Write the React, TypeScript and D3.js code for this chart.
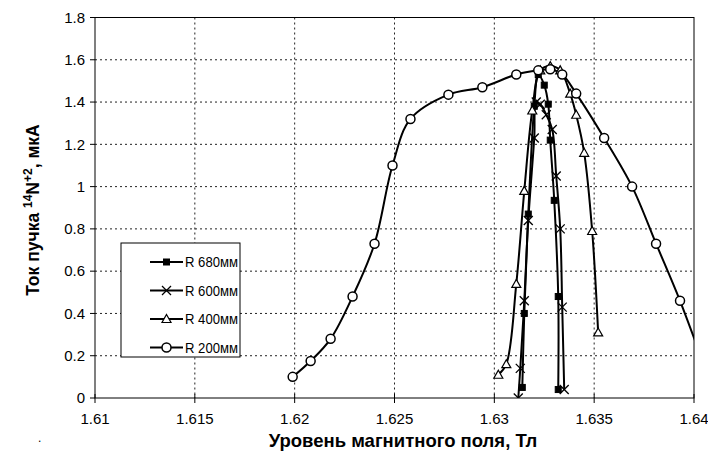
import React from "react";
import * as d3 from "d3";

const xTicks = [1.61, 1.615, 1.62, 1.625, 1.63, 1.635, 1.64];
const yTicks = [0, 0.2, 0.4, 0.6, 0.8, 1, 1.2, 1.4, 1.6, 1.8];

const r680X = [1.6314, 1.6315, 1.6317, 1.632, 1.6322, 1.6325, 1.6327, 1.6328, 1.633, 1.6332, 1.6332];
const r680Y = [0.05, 0.4, 0.87, 1.38, 1.53, 1.48, 1.39, 1.22, 0.935, 0.48, 0.04];

const r600X = [1.6312, 1.6313, 1.6315, 1.6317, 1.632, 1.6321, 1.6323, 1.6326, 1.6329, 1.6331, 1.6333, 1.6334, 1.6335];
const r600Y = [0.0, 0.14, 0.46, 0.84, 1.23, 1.4, 1.39, 1.34, 1.27, 1.05, 0.8, 0.43, 0.04];

const r400X = [1.6302, 1.6306, 1.6311, 1.6315, 1.6319, 1.6323, 1.6328, 1.6333, 1.6338, 1.6341, 1.6345, 1.6349, 1.6352];
const r400Y = [0.11, 0.16, 0.54, 0.98, 1.36, 1.55, 1.57, 1.55, 1.44, 1.34, 1.16, 0.79, 0.31];

const r200X = [1.6199, 1.6208, 1.6218, 1.6229, 1.624, 1.6249, 1.6258, 1.6277, 1.6294, 1.6311, 1.6322, 1.6328, 1.6334, 1.6341, 1.6355, 1.6369, 1.6381, 1.6393, 1.6404];
const r200Y = [0.1, 0.175, 0.28, 0.48, 0.73, 1.1, 1.32, 1.435, 1.47, 1.53, 1.55, 1.555, 1.53, 1.44, 1.23, 1.0, 0.73, 0.46, 0.18];

const seriesNames = ["R 680мм", "R 600мм", "R 400мм", "R 200мм"];
const markerTypes = ["square", "cross", "triangle", "circle"];

const left = 95, right = 694, top = 17.5, bottom = 398;

function Marker({ type, x, y }: { type: string; x: number; y: number }) {
  if (type === "square") {
    return <rect x={x - 3} y={y - 3} width={6} height={6} fill="#000" stroke="#000" strokeWidth={1} />;
  }
  if (type === "cross") {
    return (
      <g stroke="#000" strokeWidth={1.3}>
        <line x1={x - 4.5} y1={y - 4.5} x2={x + 4.5} y2={y + 4.5} />
        <line x1={x - 4.5} y1={y + 4.5} x2={x + 4.5} y2={y - 4.5} />
      </g>
    );
  }
  if (type === "triangle") {
    return <path d={`M${x},${y - 4.5}L${x + 4.5},${y + 3.5}L${x - 4.5},${y + 3.5}Z`} fill="#fff" stroke="#000" strokeWidth={1.2} />;
  }
  return <circle cx={x} cy={y} r={4.5} fill="#fff" stroke="#000" strokeWidth={1.5} />;
}

export default function App() {
  const x = d3.scaleLinear().domain([1.61, 1.64]).range([left, right]);
  const y = d3.scaleLinear().domain([0, 1.8]).range([bottom, top]);
  const line = d3
    .line<[number, number]>()
    .x((d) => x(d[0]))
    .y((d) => y(d[1]))
    .curve(d3.curveCatmullRom.alpha(0.5));

  const series = [
    { xs: r680X, ys: r680Y },
    { xs: r600X, ys: r600Y },
    { xs: r400X, ys: r400Y },
    { xs: r200X, ys: r200Y },
  ];

  const legX = 121, legY = 243, legW = 119, legH = 114;
  const font = "'Liberation Sans', Arial, sans-serif";

  return (
    <svg width={708} height={461} style={{ position: "absolute", left: 0, top: 0, background: "#fff" }} fontFamily={font}>
      <rect x={0} y={0} width={708} height={461} fill="#fff" />
      <defs>
        <clipPath id="plot">
          <rect x={left} y={top} width={right - left} height={bottom - top} />
        </clipPath>
      </defs>
      {yTicks.slice(1, -1).map((t) => (
        <line key={"gy" + t} x1={left} x2={right} y1={y(t)} y2={y(t)} stroke="#222" strokeWidth={1} strokeDasharray="2,3" />
      ))}
      {xTicks.slice(1, -1).map((t) => (
        <line key={"gx" + t} x1={x(t)} x2={x(t)} y1={top} y2={bottom} stroke="#222" strokeWidth={1} strokeDasharray="2,3" />
      ))}
      <rect x={left} y={top} width={right - left} height={bottom - top} fill="none" stroke="#000" strokeWidth={1} />
      {yTicks.map((t) => (
        <g key={"yt" + t}>
          <line x1={left - 5} x2={left} y1={y(t)} y2={y(t)} stroke="#000" />
          <text x={left - 10} y={y(t)} dy="0.35em" textAnchor="end" fontSize={15}>
            {String(t)}
          </text>
        </g>
      ))}
      {xTicks.map((t) => (
        <g key={"xt" + t}>
          <line x1={x(t)} x2={x(t)} y1={bottom - 4} y2={bottom + 5} stroke="#000" />
          <text x={x(t)} y={bottom + 26} textAnchor="middle" fontSize={15}>
            {String(t)}
          </text>
        </g>
      ))}
      <g clipPath="url(#plot)">
        {series.map((s, i) => {
          const pts = s.xs.map((v, j) => [v, s.ys[j]] as [number, number]);
          return <path key={"l" + i} d={line(pts) || ""} fill="none" stroke="#000" strokeWidth={2} />;
        })}
        {series.map((s, i) =>
          s.xs.map((v, j) =>
            v <= 1.64 ? <Marker key={"m" + i + "-" + j} type={markerTypes[i]} x={x(v)} y={y(s.ys[j])} /> : null
          )
        )}
      </g>
      <rect x={legX} y={legY} width={legW} height={legH} fill="#fff" stroke="#000" strokeWidth={1} />
      {seriesNames.map((n, i) => {
        const ly = legY + 19 + i * 28.5;
        return (
          <g key={"lg" + i}>
            <line x1={legX + 29} x2={legX + 62} y1={ly} y2={ly} stroke="#000" strokeWidth={2} />
            <Marker type={markerTypes[i]} x={legX + 45.5} y={ly} />
            <text x={legX + 64} y={ly} dy="0.35em" fontSize={15} textLength={53} lengthAdjust="spacingAndGlyphs">
              {n}
            </text>
          </g>
        );
      })}
      <text x={403} y={447} textAnchor="middle" fontSize={18.5} fontWeight="bold">
        Уровень магнитного поля, Тл
      </text>
      <text transform="translate(39,210) rotate(-90)" textAnchor="middle" fontSize={17.5} fontWeight="bold">
        <tspan>Ток пучка  </tspan>
        <tspan fontSize={12} dy={-7}>14</tspan>
        <tspan dy={7}>N</tspan>
        <tspan fontSize={12} dy={-7}>+2</tspan>
        <tspan dy={7}>, мкА</tspan>
      </text>
      <text x={38} y={442} fontSize={12}>.</text>
    </svg>
  );
}
